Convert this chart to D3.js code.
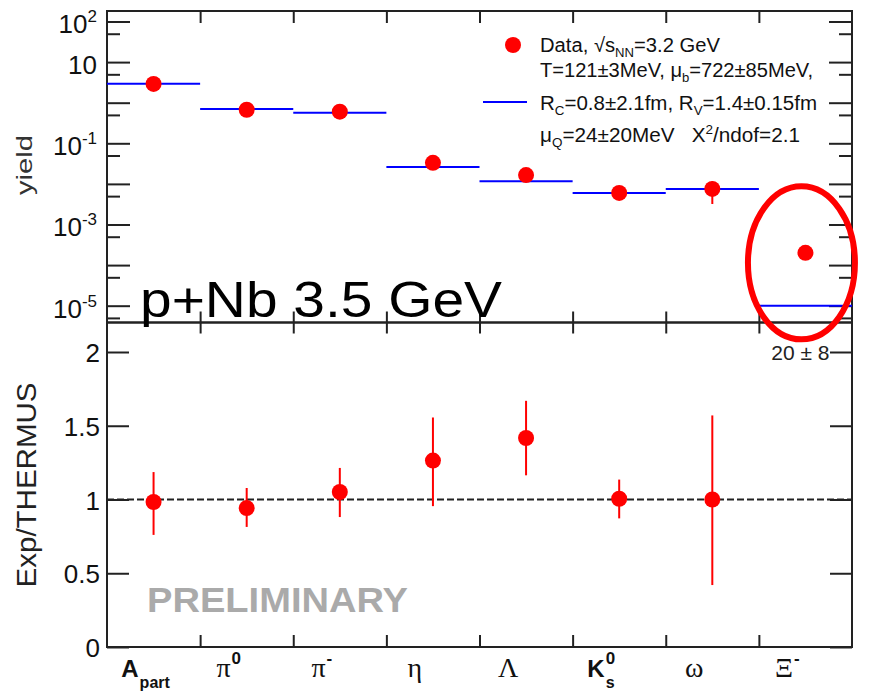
<!DOCTYPE html>
<html>
<head>
<meta charset="utf-8">
<script src="https://cdn.jsdelivr.net/npm/d3@7"></script>
<style>
  body { margin: 0; background: #fff; }
  svg { display: block; font-family: "Liberation Sans", Arial, sans-serif; }
</style>
</head>
<body>
<div id="chart"></div>
<script>
// particle species, one bin each
const categories = ["A_part", "pi0", "pi-", "eta", "Lambda", "K0s", "omega", "Xi-"];
const xLabels = [
  { t: "A", sub: "part", serif: false },
  { t: "π", sup: "0", serif: true },
  { t: "π", sup: "-", serif: true },
  { t: "η", serif: true },
  { t: "Λ", serif: true },
  { t: "K", sup: "0", sub: "s", serif: false },
  { t: "ω", serif: true },
  { t: "Ξ", sup: "-", serif: true }
];

// measured yields and errors
const yieldData = [2.9, 0.67, 0.6, 0.033, 0.0165, 0.006, 0.0075, 2.0e-4];
const yieldLo   = [2.4, 0.58, 0.52, 0.027, 0.014, 0.0053, 0.0032, 1.8e-4];
const yieldHi   = [3.4, 0.74, 0.68, 0.040, 0.019, 0.0067, 0.0115, 2.2e-4];
// THERMUS fit
const thermus   = [2.94, 0.70, 0.567, 0.026, 0.0116, 0.0060, 0.0075, 1.0e-5];

// Exp/THERMUS ratio (Xi- is off scale)
const ratio   = [0.983, 0.942, 1.051, 1.264, 1.417, 1.005, 1.0, null];
const ratioLo = [0.76, 0.814, 0.881, 0.955, 1.164, 0.872, 0.42, null];
const ratioHi = [1.186, 1.078, 1.214, 1.556, 1.669, 1.135, 1.57, null];
const xiRatioText = "20 ± 8";

const yieldMajor = [1e2, 1e1, 1, 1e-1, 1e-2, 1e-3, 1e-4, 1e-5];
const yieldMinor = [50, 5, 0.5, 0.05, 5e-3, 5e-4, 5e-5, 5e-6];
const yieldLabels = [
  { v: 1e2, e: "2" }, { v: 1e1, e: "" }, { v: 1e-1, e: "-1" },
  { v: 1e-3, e: "-3" }, { v: 1e-5, e: "-5" }
];
const ratioTicks = [0, 0.5, 1, 1.5, 2];
const binEdges = [1, 2, 3, 4, 5, 6, 7];

const width = 879, height = 700;
const left = 107, right = 852;
const topY0 = 11, sepY = 322.5, botY1 = 647;
const ink = "#222";

const svg = d3.select("#chart").append("svg")
  .attr("width", width).attr("height", height);

const x = d3.scaleBand().domain(categories).range([left, right]);
const xEdge = d3.scaleLinear().domain([0, 8]).range([left, right]);
const yTop = d3.scaleLog().domain([Math.pow(10, -5.414), Math.pow(10, 2.2586)]).range([sepY, topY0]);
const yBot = d3.scaleLinear().domain([0, 2.2]).range([botY1, sepY]);

function styleAxis(g) {
  g.select(".domain").remove();
  g.selectAll(".tick line").attr("stroke", ink).attr("stroke-width", 2);
}

// ---- top panel ticks
svg.append("g").attr("transform", `translate(${left},0)`)
  .call(d3.axisRight(yTop).tickValues(yieldMajor).tickSize(23).tickFormat(""))
  .call(styleAxis);
svg.append("g").attr("transform", `translate(${left},0)`)
  .call(d3.axisRight(yTop).tickValues(yieldMinor).tickSize(13).tickFormat(""))
  .call(styleAxis);
svg.append("g").attr("transform", `translate(${right},0)`)
  .call(d3.axisLeft(yTop).tickValues(yieldMajor).tickSize(23).tickFormat(""))
  .call(styleAxis);
svg.append("g").attr("transform", `translate(${right},0)`)
  .call(d3.axisLeft(yTop).tickValues(yieldMinor).tickSize(13).tickFormat(""))
  .call(styleAxis);
svg.append("g").attr("transform", `translate(0,${topY0})`)
  .call(d3.axisBottom(xEdge).tickValues(binEdges).tickSize(12).tickFormat(""))
  .call(styleAxis);
svg.append("g").attr("transform", `translate(0,${sepY})`)
  .call(d3.axisTop(xEdge).tickValues(binEdges).tickSize(11).tickFormat(""))
  .call(styleAxis);

// ---- bottom panel ticks
svg.append("g").attr("transform", `translate(${left},0)`)
  .call(d3.axisRight(yBot).tickValues(ratioTicks).tickSize(22).tickFormat(""))
  .call(styleAxis);
svg.append("g").attr("transform", `translate(${right},0)`)
  .call(d3.axisLeft(yBot).tickValues(ratioTicks).tickSize(22).tickFormat(""))
  .call(styleAxis);
svg.append("g").attr("transform", `translate(0,${sepY})`)
  .call(d3.axisBottom(xEdge).tickValues(binEdges).tickSize(11).tickFormat(""))
  .call(styleAxis);
svg.append("g").attr("transform", `translate(0,${botY1})`)
  .call(d3.axisTop(xEdge).tickValues(binEdges).tickSize(12).tickFormat(""))
  .call(styleAxis);

// frames
svg.append("rect").attr("x", left).attr("y", topY0)
  .attr("width", right - left).attr("height", sepY - topY0)
  .attr("fill", "none").attr("stroke", ink).attr("stroke-width", 2);
svg.append("rect").attr("x", left).attr("y", sepY)
  .attr("width", right - left).attr("height", botY1 - sepY)
  .attr("fill", "none").attr("stroke", ink).attr("stroke-width", 2);

// ---- y tick labels, top (10^n)
const yl = svg.append("g").attr("fill", "#111");
yieldLabels.forEach(d => {
  const y = yTop(d.v);
  const t = yl.append("text").attr("y", y + 12).attr("font-size", 26);
  t.append("tspan").text("10");
  if (d.e) t.append("tspan").attr("font-size", 17).attr("dy", -11).text(d.e);
  const w = t.node().getComputedTextLength();
  t.attr("x", 97 - w);
});

// ---- y tick labels, bottom
svg.append("g").selectAll("text").data(ratioTicks).join("text")
  .attr("x", 100).attr("y", d => yBot(d) + 10)
  .attr("text-anchor", "end").attr("font-size", 26).attr("fill", "#111")
  .text(d => d3.format("")(d));

// axis titles
svg.append("text").attr("transform", "translate(32,165) rotate(-90)")
  .attr("text-anchor", "middle").attr("font-size", 22).attr("fill", "#333")
  .attr("textLength", 60).attr("lengthAdjust", "spacingAndGlyphs")
  .text("yield");
svg.append("text").attr("transform", "translate(36,485) rotate(-90)")
  .attr("text-anchor", "middle").attr("font-size", 27).attr("fill", "#222")
  .attr("textLength", 205).attr("lengthAdjust", "spacingAndGlyphs")
  .text("Exp/THERMUS");

// ---- x labels
categories.forEach((c, i) => {
  const lab = xLabels[i];
  const g = svg.append("g");
  const main = g.append("text").attr("x", 0).attr("y", 677).attr("fill", "#111")
    .attr("font-size", lab.serif ? 28 : 24)
    .attr("font-weight", lab.serif ? "normal" : "bold")
    .attr("font-family", lab.serif ? "'Liberation Serif', 'Times New Roman', serif" : null)
    .text(lab.t);
  const w = main.node().getComputedTextLength();
  let extra = 0;
  if (lab.sup) {
    const s = g.append("text").attr("x", w + 1).attr("y", 664).attr("fill", "#111")
      .attr("font-size", 17).attr("font-weight", "bold").text(lab.sup);
    extra = Math.max(extra, s.node().getComputedTextLength() + 1);
  }
  if (lab.sub) {
    const s = g.append("text").attr("x", w + 1).attr("y", 688).attr("fill", "#111")
      .attr("font-size", 16).attr("font-weight", "bold").text(lab.sub);
    extra = Math.max(extra, s.node().getComputedTextLength() + 1);
  }
  const cx = x(c) + x.bandwidth() / 2 - (i === 0 ? 8 : 18);
  g.attr("transform", `translate(${cx - (w + extra) / 2},0)`);
});

// ---- top panel marks
svg.append("g").selectAll("line").data(categories).join("line")
  .attr("x1", d => x(d)).attr("x2", d => x(d) + x.bandwidth())
  .attr("y1", (d, i) => yTop(thermus[i])).attr("y2", (d, i) => yTop(thermus[i]))
  .attr("stroke", "#0000ff").attr("stroke-width", 2);

svg.append("g").selectAll("line").data(categories).join("line")
  .attr("x1", d => x(d) + x.bandwidth() / 2).attr("x2", d => x(d) + x.bandwidth() / 2)
  .attr("y1", (d, i) => yTop(yieldLo[i])).attr("y2", (d, i) => yTop(yieldHi[i]))
  .attr("stroke", "#ff0000").attr("stroke-width", 2);

svg.append("g").selectAll("circle").data(categories).join("circle")
  .attr("cx", d => x(d) + x.bandwidth() / 2)
  .attr("cy", (d, i) => yTop(yieldData[i]))
  .attr("r", 8).attr("fill", "#ff0000");

// ---- bottom panel marks
svg.append("line").attr("x1", left).attr("x2", right)
  .attr("y1", yBot(1)).attr("y2", yBot(1))
  .attr("stroke", ink).attr("stroke-width", 2).attr("stroke-dasharray", "7,3");

const rIdx = categories.map((c, i) => i).filter(i => ratio[i] != null);
svg.append("g").selectAll("line").data(rIdx).join("line")
  .attr("x1", i => x(categories[i]) + x.bandwidth() / 2)
  .attr("x2", i => x(categories[i]) + x.bandwidth() / 2)
  .attr("y1", i => yBot(ratioLo[i])).attr("y2", i => yBot(ratioHi[i]))
  .attr("stroke", "#ff0000").attr("stroke-width", 2);
svg.append("g").selectAll("circle").data(rIdx).join("circle")
  .attr("cx", i => x(categories[i]) + x.bandwidth() / 2)
  .attr("cy", i => yBot(ratio[i]))
  .attr("r", 8).attr("fill", "#ff0000");

svg.append("text").attr("x", x("Xi-") + x.bandwidth() / 2 - 5).attr("y", 360)
  .attr("text-anchor", "middle").attr("font-size", 21).attr("fill", "#222")
  .text(xiRatioText);

// ---- legend
const lg = svg.append("g").attr("font-size", 20).attr("fill", "#111");
lg.append("circle").attr("cx", 513).attr("cy", 45).attr("r", 8).attr("fill", "#ff0000");
lg.append("line").attr("x1", 483).attr("x2", 527).attr("y1", 102).attr("y2", 102)
  .attr("stroke", "#0000ff").attr("stroke-width", 2);

function legendLine(y, len, parts) {
  const t = lg.append("text").attr("x", 540).attr("y", y)
    .style("white-space", "pre")
    .attr("textLength", len).attr("lengthAdjust", "spacingAndGlyphs");
  let shift = 0;
  parts.forEach(p => {
    const target = p[1] === "sub" ? 5 : p[1] === "sup" ? -8 : 0;
    const ts = t.append("tspan").attr("dy", target - shift).text(p[0]);
    if (p[1]) ts.attr("font-size", 13);
    shift = target;
  });
}
legendLine(52, 180, [["Data, √s"], ["NN", "sub"], ["=3.2 GeV"]]);
legendLine(77, 273, [["T=121±3MeV, μ"], ["b", "sub"], ["=722±85MeV,"]]);
legendLine(110, 277, [["R"], ["C", "sub"], ["=0.8±2.1fm, R"], ["V", "sub"], ["=1.4±0.15fm"]]);
legendLine(142, 260, [["μ"], ["Q", "sub"], ["=24±20MeV   X"], ["2", "sup"], ["/ndof=2.1"]]);

// ---- annotations
svg.append("text").attr("x", 147).attr("y", 612)
  .attr("font-size", 35).attr("font-weight", "bold").attr("fill", "#aaaaaa")
  .attr("textLength", 261).attr("lengthAdjust", "spacingAndGlyphs")
  .text("PRELIMINARY");

svg.append("text").attr("x", 140).attr("y", 317)
  .attr("font-size", 50).attr("fill", "#000")
  .attr("textLength", 362).attr("lengthAdjust", "spacingAndGlyphs")
  .text("p+Nb 3.5 GeV");

svg.append("ellipse")
  .attr("cx", x("Xi-") + x.bandwidth() / 2 - 4)
  .attr("cy", yTop(yieldData[7]) + 10)
  .attr("rx", 53.5).attr("ry", 76.5)
  .attr("fill", "none").attr("stroke", "#ff0000").attr("stroke-width", 6);
</script>
</body>
</html>
